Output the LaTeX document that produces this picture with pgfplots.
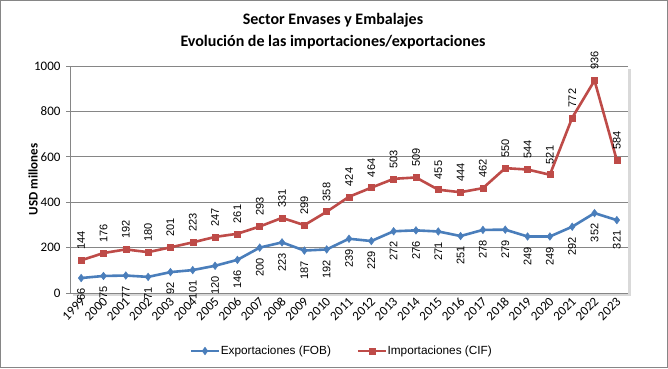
\documentclass[border=0pt]{standalone}
\usepackage{pgfplots}
\pgfplotsset{compat=1.18}
\usepackage{fontspec}
\setmainfont{Carlito}
\newfontfamily\labfont{Liberation Sans}
\definecolor{cblue}{HTML}{4A7EBB}
\definecolor{cred}{HTML}{BE4B48}
\definecolor{cgrid}{HTML}{868686}
\begin{document}
\begin{tikzpicture}[x=1pt,y=1pt]
\fill[white] (0,0) rectangle (668,368);
\draw[cgrid,line width=1pt] (0.5,0.5) rectangle (667.5,367.5);
\fill[black!15] (73,72) rectangle (631,299);
\node[font=\bfseries\fontsize{16}{18}\selectfont] at (333,348) {Sector Envases y Embalajes};
\node[font=\bfseries\fontsize{16}{18}\selectfont] at (333,326) {Evolución de las importaciones/exportaciones};
\begin{axis}[
  at={(70pt,75pt)}, anchor=south west,
  scale only axis, width=558pt, height=227pt,
  xmin=-0.5, xmax=24.5, ymin=0, ymax=1000,
  ytick={0,200,400,600,800,1000},
  xtick={0,...,24},
  xticklabels={1999,2000,2001,2002,2003,2004,2005,2006,2007,2008,2009,2010,2011,2012,2013,2014,2015,2016,2017,2018,2019,2020,2021,2022,2023},
  /pgf/number format/assume math mode=true,
  /pgf/number format/1000 sep={},
  axis background/.style={fill=white},
  ymajorgrids, grid style={cgrid, line width=0.8pt},
  axis x line=bottom, axis y line=left,
  axis line style={-, cgrid, line width=0.8pt},
  tick align=outside, major tick length=4pt,
  xtick style={draw=none},
  ytick style={cgrid, line width=0.8pt},
  ticklabel style={font=\fontsize{13}{15}\selectfont},
  yticklabel style={xshift=-2pt},
  xticklabel style={rotate=45, anchor=east, xshift=3pt, yshift=-3pt},
  ylabel={USD millones},
  ylabel style={at={(axis description cs:-0.066,0.5)}, anchor=center, font=\bfseries\fontsize{13}{15}\selectfont},
  clip=false,
  legend style={at={(axis description cs:0.4857,-0.2555)}, anchor=center, draw=none, fill=none,
    legend columns=2, font=\labfont\fontsize{11.8}{13}\selectfont,
    nodes={inner xsep=0.5pt},
    /tikz/every even column/.append style={column sep=25pt},
    inner sep=0pt},
  legend cell align=left,
  legend image code/.code={\draw[mark repeat=2,mark phase=2] plot coordinates {(0pt,0pt)(14pt,0pt)(28pt,0pt)};},
  nodes near coords,
  every node near coord/.append style={font=\labfont\fontsize{11}{13}\selectfont, black},
]
\addplot[cblue, line width=2.6pt, mark=diamond*, mark size=3.8pt, mark options={line width=0.5pt},
  every node near coord/.append style={yshift=-7pt, rotate=90, anchor=east}]
  coordinates {(0,66)(1,75)(2,77)(3,71)(4,92)(5,101)(6,120)(7,146)(8,200)(9,223)(10,187)(11,192)(12,239)(13,229)(14,272)(15,276)(16,271)(17,251)(18,278)(19,279)(20,249)(21,249)(22,292)(23,352)(24,321)};
\addlegendentry{Exportaciones (FOB)}
\addplot[cred, line width=2.6pt, mark=square*, mark size=3pt, mark options={line width=0.5pt},
  every node near coord/.append style={yshift=7pt, rotate=90, anchor=west}]
  coordinates {(0,144)(1,176)(2,192)(3,180)(4,201)(5,223)(6,247)(7,261)(8,293)(9,331)(10,299)(11,358)(12,424)(13,464)(14,503)(15,509)(16,455)(17,444)(18,462)(19,550)(20,544)(21,521)(22,772)(23,936)(24,584)};
\addlegendentry{Importaciones (CIF)}
\end{axis}
\end{tikzpicture}
\end{document}
